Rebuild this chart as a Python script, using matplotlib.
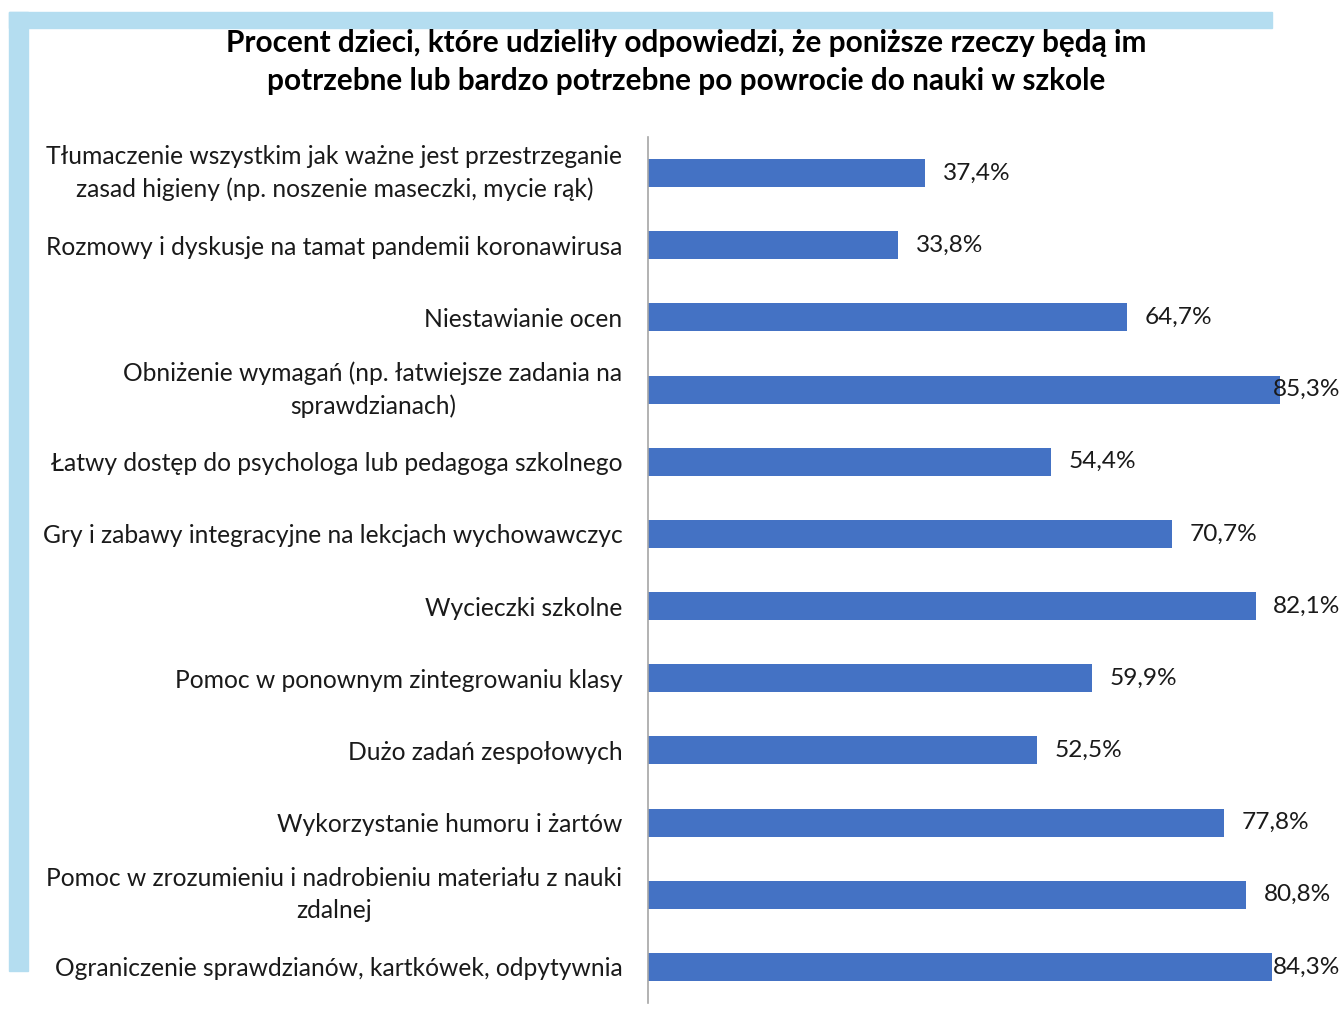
import matplotlib
matplotlib.use("Agg")
import matplotlib.pyplot as plt
from matplotlib.patches import Rectangle

categories = [
    "Tłumaczenie wszystkim jak ważne jest przestrzeganie\nzasad higieny (np. noszenie maseczki, mycie rąk)",
    "Rozmowy i dyskusje na tamat pandemii koronawirusa",
    "Niestawianie ocen",
    "Obniżenie wymagań (np. łatwiejsze zadania na\nsprawdzianach)",
    "Łatwy dostęp do psychologa lub pedagoga szkolnego",
    "Gry i zabawy integracyjne na lekcjach wychowawczyc",
    "Wycieczki szkolne",
    "Pomoc w ponownym zintegrowaniu klasy",
    "Dużo zadań zespołowych",
    "Wykorzystanie humoru i żartów",
    "Pomoc w zrozumieniu i nadrobieniu materiału z nauki\nzdalnej",
    "Ograniczenie sprawdzianów, kartkówek, odpytywnia",
]
values = [37.4, 33.8, 64.7, 85.3, 54.4, 70.7, 82.1, 59.9, 52.5, 77.8, 80.8, 84.3]
title = ("Procent dzieci, które udzieliły odpowiedzi, że poniższe rzeczy będą im\n"
         "potrzebne lub bardzo potrzebne po powrocie do nauki w szkole")

W, H = 1341, 1028
fig = plt.figure(figsize=(W / 100, H / 100), dpi=100)
fig.patch.set_facecolor("white")

frame_col = "#B4DDF0"
fig.patches.append(Rectangle((9 / W, 1 - 28 / H), (1272 - 9) / W, 16 / H,
                             transform=fig.transFigure, color=frame_col, zorder=0))
fig.patches.append(Rectangle((9 / W, 1 - 971 / H), 19 / W, (971 - 12) / H,
                             transform=fig.transFigure, color=frame_col, zorder=0))

ax_left, ax_right = 648, 1341
ax_top, ax_bot = 137, 1003
ax = fig.add_axes([ax_left / W, 1 - ax_bot / H, (ax_right - ax_left) / W, (ax_bot - ax_top) / H])
ax.patch.set_alpha(0)

px_per_unit = 7.406
xmax = (ax_right - ax_left) / px_per_unit
font = "Lato"

y = list(range(len(values)))
ax.barh(y, values, height=0.39, color="#4472C4")
ax.set_ylim(len(values) - 0.5, -0.5)
ax.set_xlim(0, xmax)

clamp = 84.35
for yi, v in zip(y, values):
    ax.text(min(v + 2.4, clamp), yi, f"{v:.1f}%".replace(".", ","), va="center", ha="left",
            fontsize=17.6, family=font, color="#1a1a1a")

ax.set_yticks(y)
ax.set_yticklabels(categories, fontsize=17.7, family=font, color="#1a1a1a",
                   multialignment="center", linespacing=1.5)
for t in ax.get_yticklabels():
    if "\n" in t.get_text():
        t.set_va("center")
ax.tick_params(axis="y", length=0, pad=18.5)
ax.set_xticks([])
for s in ["top", "right", "bottom"]:
    ax.spines[s].set_visible(False)
ax.spines["left"].set_color("#A6A6A6")
ax.spines["left"].set_linewidth(1.2)

fig.text(686 / W, 1 - 62 / H, title, ha="center", va="center", fontsize=21.4,
         fontweight="bold", family=font, linespacing=1.45, color="black")

fig.savefig("out.png", dpi=100)
